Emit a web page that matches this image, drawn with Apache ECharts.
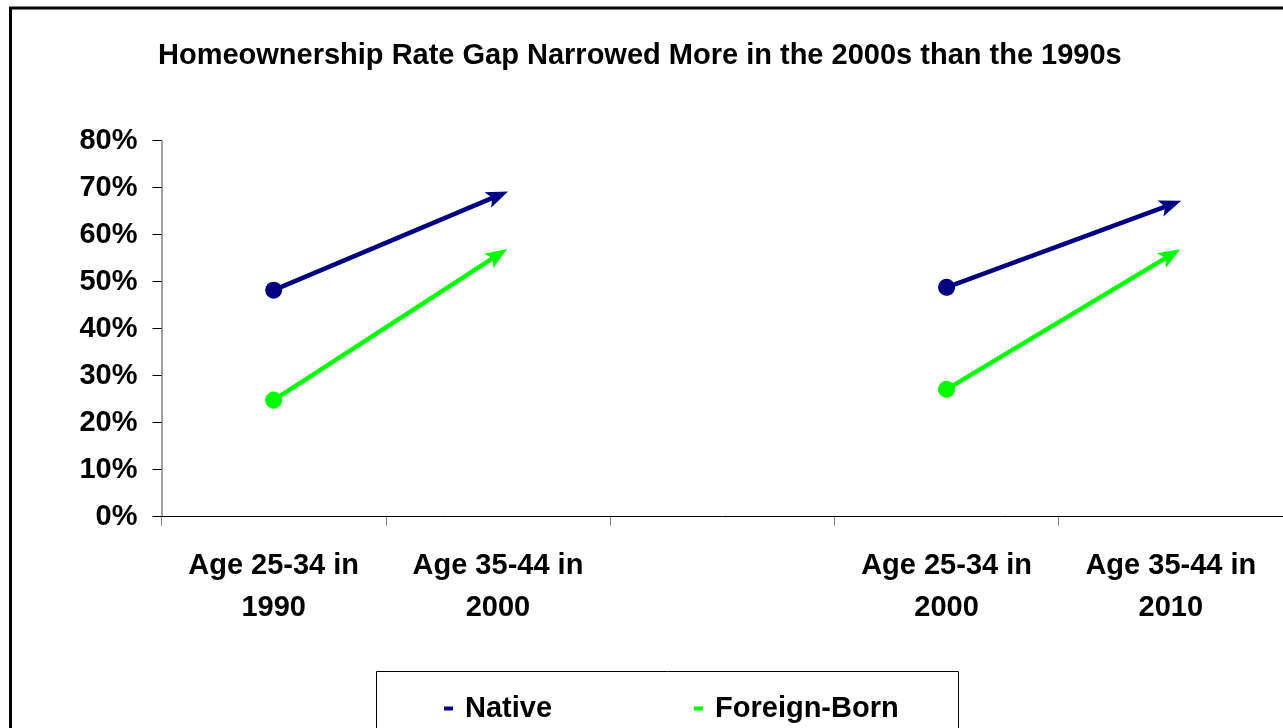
<!DOCTYPE html>
<html>
<head>
<meta charset="utf-8">
<script src="https://cdn.jsdelivr.net/npm/echarts@6/dist/echarts.min.js"></script>
<style>
html,body{margin:0;padding:0;background:#fff;}
#chart{width:1283px;height:728px;}
</style>
</head>
<body>
<div id="chart"></div>
<script>
const titleText = 'Homeownership Rate Gap Narrowed More in the 2000s than the 1990s';
const categories = ['Age 25-34 in\n1990', 'Age 35-44 in\n2000', '', 'Age 25-34 in\n2000', 'Age 35-44 in\n2010'];
const seriesNames = ['Native', 'Foreign-Born'];
const nativeValues = [48.2, 68.3, null, 48.8, 66.4];
const foreignValues = [24.8, 55.7, null, 27.1, 55.7];
const yMin = 0, yMax = 80, yStep = 10;

const FONT = '"Liberation Sans", Arial, sans-serif';
const colors = ['#000080', '#00FF00'];
const ARROW = 'path://M0,0L9,18L0,14L-9,18Z';

function segments(values) {
  const out = [];
  for (let i = 0; i < values.length - 1; i++) {
    if (values[i] != null && values[i + 1] != null) {
      out.push([{ coord: [i, values[i]] }, { coord: [i + 1, values[i + 1]] }]);
    }
  }
  return out;
}

function makeSeries(name, values, color) {
  return {
    name: name,
    type: 'line',
    data: values,
    connectNulls: false,
    showSymbol: false,
    symbol: 'none',
    itemStyle: { color: color },
    lineStyle: { color: color, width: 0, opacity: 0 },
    silent: true,
    animation: false,
    markLine: {
      silent: true,
      animation: false,
      symbol: ['circle', ARROW],
      symbolSize: [17, 22],
      label: { show: false },
      emphasis: { disabled: true },
      lineStyle: { type: 'solid', color: color, width: 4.5 },
      itemStyle: { color: color },
      data: segments(values)
    }
  };
}

const chart = echarts.init(document.getElementById('chart'), null, { renderer: 'canvas' });
chart.setOption({
  backgroundColor: '#ffffff',
  animation: false,
  title: {
    text: titleText,
    left: 153,
    top: 36,
    textStyle: { fontFamily: FONT, fontSize: 29, fontWeight: 'bold', color: '#000' }
  },
  graphic: [
    { type: 'rect', silent: true, shape: { x: 10.5, y: 8, width: 1400, height: 900 },
      style: { fill: 'none', stroke: '#000', lineWidth: 3 } },
    { type: 'rect', silent: true, shape: { x: 376.5, y: 671.5, width: 582, height: 100 },
      style: { fill: 'none', stroke: '#000', lineWidth: 1 } }
  ],
  legend: {
    left: 439,
    top: 689,
    itemWidth: 9,
    itemHeight: 4,
    itemGap: 142,
    icon: 'rect',
    selectedMode: false,
    data: [
      { name: seriesNames[0], itemStyle: { color: colors[0] } },
      { name: seriesNames[1], itemStyle: { color: colors[1] } }
    ],
    textStyle: { fontFamily: FONT, fontSize: 29, fontWeight: 'bold', color: '#000', padding: [0, 0, 0, 7] }
  },
  grid: { left: 161.5, top: 140.7, width: 1125, height: 376, containLabel: false },
  xAxis: {
    type: 'category',
    data: categories,
    boundaryGap: true,
    axisLine: { lineStyle: { color: '#000', width: 1 } },
    axisTick: { show: true, length: 9, lineStyle: { color: '#808080', width: 1 } },
    axisLabel: {
      interval: 0, margin: 28, fontFamily: FONT, fontSize: 29, fontWeight: 'bold',
      color: '#000', lineHeight: 42
    },
    splitLine: { show: false }
  },
  yAxis: {
    type: 'value',
    min: yMin, max: yMax, interval: yStep,
    axisLine: { show: true, lineStyle: { color: '#808080', width: 1.5 } },
    axisTick: { show: true, length: 9, lineStyle: { color: '#000', width: 1 } },
    axisLabel: {
      margin: 24, fontFamily: FONT, fontSize: 29, fontWeight: 'bold', color: '#000',
      formatter: '{value}%'
    },
    splitLine: { show: false }
  },
  series: [
    makeSeries(seriesNames[0], nativeValues, colors[0]),
    makeSeries(seriesNames[1], foreignValues, colors[1])
  ]
});
</script>
</body>
</html>
